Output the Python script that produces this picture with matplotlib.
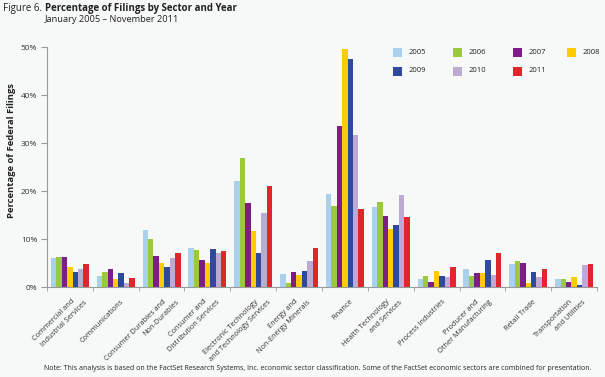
import matplotlib
matplotlib.use("Agg")
import matplotlib.pyplot as plt
import numpy as np
from matplotlib.patches import Rectangle
import matplotlib.transforms as mtransforms

plt.rcParams['font.family'] = ['Open Sans', 'DejaVu Sans']

categories = [
    "Commercial and\nIndustrial Services",
    "Communications",
    "Consumer Durables and\nNon-Durables",
    "Consumer and\nDistribution Services",
    "Electronic Technology\nand Technology Services",
    "Energy and\nNon-Energy Minerals",
    "Finance",
    "Health Technology\nand Services",
    "Process Industries",
    "Producer and\nOther Manufacturing",
    "Retail Trade",
    "Transportation\nand Utilities",
]
years = ["2005", "2006", "2007", "2008", "2009", "2010", "2011"]
v2005 = [6.0, 2.2, 11.8, 8.1, 22.1, 2.7, 19.3, 16.7, 1.6, 3.8, 4.8, 1.6]
v2006 = [6.2, 3.1, 10.1, 7.8, 26.9, 0.9, 16.9, 17.7, 2.2, 2.2, 5.4, 1.6]
v2007 = [6.2, 3.7, 6.5, 5.6, 17.4, 3.1, 33.5, 14.8, 1.0, 3.0, 5.1, 1.0]
v2008 = [4.2, 1.7, 5.0, 5.0, 11.7, 2.5, 49.6, 12.1, 3.3, 3.0, 0.8, 2.0]
v2009 = [3.2, 2.85, 4.2, 7.9, 7.0, 3.3, 47.5, 13.0, 2.3, 5.6, 3.1, 0.4]
v2010 = [3.8, 0.8, 6.0, 7.15, 15.5, 5.5, 31.7, 19.2, 2.0, 2.6, 2.1, 4.5]
v2011 = [4.7, 1.9, 7.15, 7.6, 21.0, 8.2, 16.2, 14.5, 4.2, 7.1, 3.8, 4.7]
series = [v2005, v2006, v2007, v2008, v2009, v2010, v2011]
colors = ["#a9d1ec", "#9bc83e", "#7d1e88", "#fecb05", "#2f4a9d", "#bcaad3", "#e0262b"]
yticks = [0, 10, 20, 30, 40, 50]
ytick_labels = ["0%", "10%", "20%", "30%", "40%", "50%"]

# label end offsets (pixels, relative to category centre) for first line
label_dx = [0, 3, 0.5, -4.7, 0, -6, 4, -5.7, 4, -8, 3.7, -6]

bg = "#f7f9f8"
fig = plt.figure(figsize=(6.05, 3.77), dpi=100, facecolor=bg)
ax = fig.add_axes([47/605, 1-287/377, 550/605, 240/377], facecolor=bg)

x = np.arange(len(categories))
bw = 0.118
for i, (vals, c) in enumerate(zip(series, colors)):
    ax.bar(x + (i - 3) * bw, vals, width=bw, color=c, linewidth=0, zorder=2)

ax.set_xlim(-0.5, len(categories) - 0.5)
ax.set_ylim(0, 50)
ax.set_yticks(yticks)
ax.set_yticklabels(ytick_labels, fontsize=6, color="#333333")
for s in ["top", "right"]:
    ax.spines[s].set_visible(False)
for s in ["left", "bottom"]:
    ax.spines[s].set_color("#9a9a9a")
    ax.spines[s].set_linewidth(0.8)
ax.tick_params(axis="y", length=4, color="#9a9a9a", pad=3)
ax.set_xticks(np.arange(-0.5, len(categories)), minor=True)
ax.set_xticks(x)
ax.set_xticklabels([])
ax.tick_params(axis="x", which="minor", length=3, color="#9a9a9a")
ax.tick_params(axis="x", which="major", length=0)

for xi, lab, dx in zip(x, categories, label_dx):
    for li, line in enumerate(lab.split("\n")):
        tr = mtransforms.offset_copy(ax.get_xaxis_transform(), fig=fig,
                                     x=dx + li * 13 + 1, y=-11 - li * 1, units="dots")
        ax.text(xi, 0, line, transform=tr, rotation=45, ha="right", va="top",
                rotation_mode="anchor", fontsize=5.3, color="#333333")

ax.set_ylabel("Percentage of Federal Filings", fontsize=6.8, fontweight="bold", color="#222222")
ax.yaxis.set_label_coords(-0.057, 0.57)

# Title
fig.text(3/605, 1-9/377, "Figure 6.", fontsize=7, color="#222222", va="center", ha="left")
fig.text(45/605, 1-9/377, "Percentage of Filings by Sector and Year", fontsize=7.0,
         fontweight="bold", color="#222222", va="center", ha="left")
fig.text(45/605, 1-20/377, "January 2005 \u2013 November 2011", fontsize=6.7,
         color="#222222", va="center", ha="left")

# Legend
leg_x = [393, 453, 513, 567]
leg_y = [52, 71]
for i, (yr, c) in enumerate(zip(years, colors)):
    r, col = divmod(i, 4)
    px, py = leg_x[col], leg_y[r]
    fig.patches.append(Rectangle((px/605, 1-(py+5)/377), 9/605, 9/377, transform=fig.transFigure,
                                 facecolor=c, edgecolor="none"))
    fig.text((px+16)/605, 1-py/377, yr, fontsize=5.5, color="#222222", va="center", ha="left")

fig.text(44/605, 1-369/377,
         "Note: This analysis is based on the FactSet Research Systems, Inc. economic sector classification. Some of the FactSet economic sectors are combined for presentation.",
         fontsize=5.0, color="#222222", va="center", ha="left")

fig.savefig("out.png", dpi=100, facecolor=bg)
